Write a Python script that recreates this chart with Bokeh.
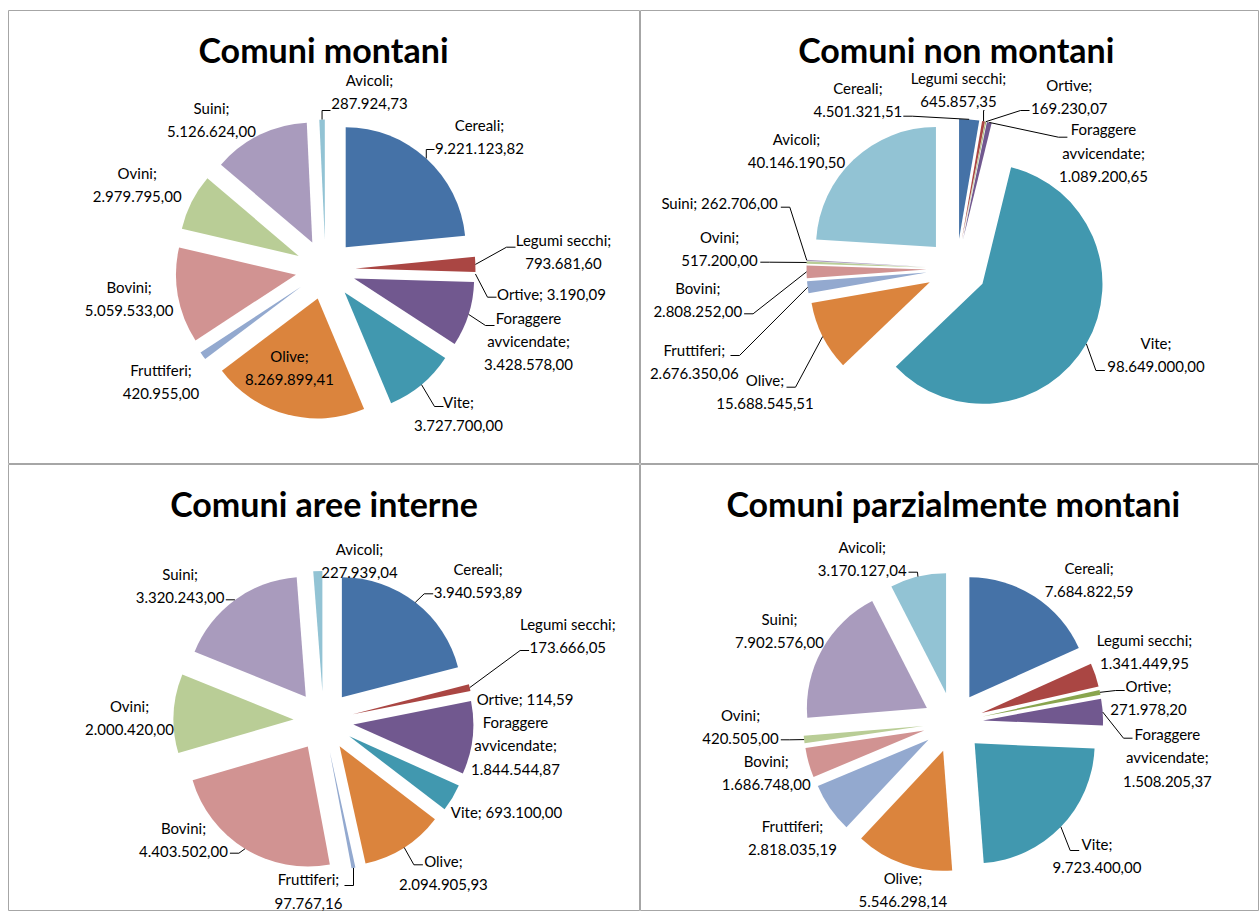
import math
from bokeh.plotting import figure
from bokeh.models import ColumnDataSource, Range1d
from bokeh.layouts import gridplot
from bokeh.embed import file_html
from bokeh.resources import INLINE
from bokeh.core.properties import value

# ---------------- DATA ----------------
categories = ["Cereali", "Legumi secchi", "Ortive", "Foraggere avvicendate", "Vite",
              "Olive", "Fruttiferi", "Bovini", "Ovini", "Suini", "Avicoli"]
colors = ["#4572A7", "#AA4643", "#89A54E", "#71588F", "#4198AF",
          "#DB843D", "#93A9CF", "#D19392", "#B9CD96", "#A99BBD", "#92C3D4"]
titles = ["Comuni montani", "Comuni non montani",
          "Comuni aree interne", "Comuni parzialmente montani"]

montani = [9221123.82, 793681.60, 3190.09, 3428578.00, 3727700.00,
           8269899.41, 420955.00, 5059533.00, 2979795.00, 5126624.00, 287924.73]
non_montani = [4501321.51, 645857.35, 169230.07, 1089200.65, 98649000.00,
               15688545.51, 2676350.06, 2808252.00, 517200.00, 262706.00, 40146190.50]
aree_interne = [3940593.89, 173666.05, 114.59, 1844544.87, 693100.00,
                2094905.93, 97767.16, 4403502.00, 2000420.00, 3320243.00, 227939.04]
parz_montani = [7684822.59, 1341449.95, 271978.20, 1508205.37, 9723400.00,
                5546298.14, 2818035.19, 1686748.00, 420505.00, 7902576.00, 3170127.04]

series = [montani, non_montani, aree_interne, parz_montani]

# ---------------- LAYOUT (pixels) ----------------
R = 120      # pie radius
D = 30       # explosion distance
FONT = "Lato"

panels = [
    dict(frame=(8, 640, 10, 464), left=8, top=10, center=(325, 269), title=(323, 49),
         labels=[(479, 136), (563, 251), (551, 293), (528, 340.5), (458, 413), (289, 367),
                 (160.5, 380.7), (128.6, 298), (136.7, 184), (211, 118.7), (369, 91.3)],
         oneline={"Ortive"},
         leaders=[(434, 149), (515, 246.7), (496, 296.7), (494, 325), (443, 406), None,
                  None, None, None, None, (330, 110)]),
    dict(frame=(640, 1259, 10, 464), left=0, top=10, center=(956, 268.3), title=(955.8, 49),
         labels=[(857.4, 99.2), (958, 89.2), (1068.8, 95.8), (1103, 152.3), (1155.5, 354),
                 (764.5, 391.3), (693.8, 360.7), (697.3, 298.7), (719, 248.3), (719, 202.7),
                 (796, 150)],
         oneline={"Suini"},
         leaders=[(902.8, 115.7), (983.9, 110), (1029, 110), (1066.9, 136.7), (1104.4, 370),
                  (786, 386.7), (730, 355), (743.6, 313.3), (759.8, 261.7), (780.3, 206.7),
                  None]),
    dict(frame=(8, 640, 464, 911), left=8, top=0, center=(323, 720.5), title=(323.5, 503),
         labels=[(477.6, 580), (567.3, 635), (524.5, 698.3), (515, 745), (506, 811.7),
                 (442.9, 871.7), (308, 890.5), (183, 839.3), (129, 716.7), (179.6, 585),
                 (359, 560)],
         oneline={"Ortive", "Vite"},
         leaders=[(432.7, 593.3), (528.6, 650), None, None, None, (422.4, 864.3),
                  (344, 885), (229.4, 852.7), None, (225.3, 599.3), None]),
    dict(frame=(640, 1259, 464, 911), left=0, top=0, center=(952.6, 722), title=(952.8, 503),
         labels=[(1088.6, 578.7), (1144, 651), (1148, 696.7), (1166.9, 756.7), (1096.5, 855),
                 (902.4, 889), (792, 836.7), (765.7, 771.7), (740, 726), (779, 629.7),
                 (861.7, 558)],
         oneline=set(),
         leaders=[None, None, (1124.2, 690), (1132, 737.7), (1078.7, 850), None, None, None,
                  (780.3, 739.3), None, (908, 571.7)]),
]


def fmt(v):
    s = f"{v:,.2f}"
    return s.replace(",", "X").replace(".", ",").replace("X", ".")


def label_text(name, v, oneline):
    nm = name.replace("Foraggere avvicendate", "Foraggere\navvicendate")
    sep = " " if oneline else "\n"
    return f"{nm};{sep}{fmt(v)}"


def make(panel, vals, title):
    x0, x1, y0, y1 = panel["frame"]
    w = x1 - x0 + panel["left"]
    h = y1 - y0 + panel["top"]
    p = figure(width=w, height=h, x_range=Range1d(x0, x1), y_range=Range1d(-y1, -y0),
               output_backend="svg", toolbar_location=None,
               x_axis_type=None, y_axis_type=None,
               min_border_left=panel["left"], min_border_right=0, min_border_bottom=0,
               min_border_top=panel["top"])
    p.grid.visible = False
    p.outline_line_color = "#a6a6a6"
    p.outline_line_width = 1
    p.background_fill_color = "white"
    p.border_fill_color = "white"

    cx, cy = panel["center"]
    tot = sum(vals)
    cum = 0.0
    xs, ys, starts, ends, mids = [], [], [], [], []
    for v in vals:
        t0 = cum / tot * 2 * math.pi
        cum += v
        t1 = cum / tot * 2 * math.pi
        m = (t0 + t1) / 2
        xs.append(cx + D * math.sin(m))
        ys.append(-cy + D * math.cos(m))
        starts.append(math.pi / 2 - t1)
        ends.append(math.pi / 2 - t0)
        mids.append(m)
    src = ColumnDataSource(dict(x=xs, y=ys, s=starts, e=ends, c=colors, cat=categories))
    p.wedge(x="x", y="y", radius=R, start_angle="s", end_angle="e",
            fill_color="c", line_color=None, source=src)

    # leader lines
    lx, ly = [], []
    for i, a in enumerate(panel["leaders"]):
        if a is None:
            continue
        cxp = xs[i] + R * math.sin(mids[i])
        cyp = ys[i] + R * math.cos(mids[i])
        ax, ay = a[0], -a[1]
        dx = cxp - ax
        el = min(9, abs(dx)) * (1 if dx > 0 else -1)
        lx.append([ax, ax + el, cxp])
        ly.append([ay, ay, cyp])
    if lx:
        p.multi_line(xs=lx, ys=ly, line_color="black", line_width=1)

    # labels
    texts = [label_text(n, v, n in panel["oneline"]) for n, v in zip(categories, vals)]
    lsrc = ColumnDataSource(dict(x=[q[0] for q in panel["labels"]],
                                 y=[-q[1] for q in panel["labels"]], t=texts))
    p.text(x="x", y="y", text="t", source=lsrc, text_align="center", text_baseline="middle",
           text_font=value(FONT), text_font_size="15px", text_line_height=1.3,
           text_color="#000000")

    tx, ty = panel["title"]
    p.text(x=[tx], y=[-ty], text=[title], text_align="center", text_baseline="middle",
           text_font=value(FONT), text_font_size="34px", text_font_style="bold",
           text_color="#000000")
    return p


figs = [make(pn, vals, t) for pn, vals, t in zip(panels, series, titles)]
grid = gridplot([[figs[0], figs[1]], [figs[2], figs[3]]], toolbar_location=None)

open("out.html", "w").write(file_html(grid, INLINE))
